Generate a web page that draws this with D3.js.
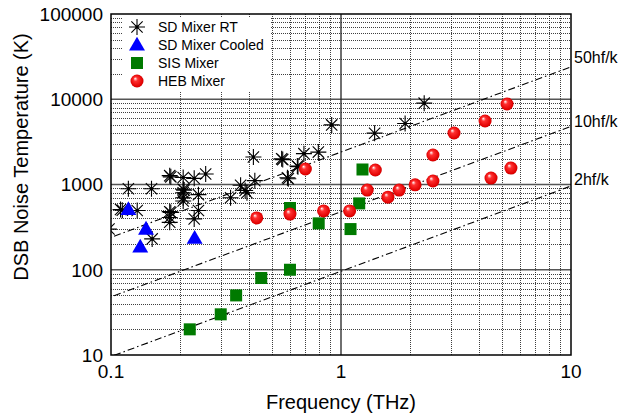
<!DOCTYPE html>
<html>
<head>
<meta charset="utf-8">
<script src="https://cdn.jsdelivr.net/npm/d3@7"></script>
<style>
  body { margin: 0; background: #fff; }
  svg text { font-family: Arial, 'Liberation Sans', sans-serif; fill: #000; }
</style>
</head>
<body>
<svg width="618" height="420"></svg>
<script>
// SD Mixer RT (room temperature Schottky)
const sdRtFreq = [0.098, 0.110, 0.112, 0.119, 0.130, 0.150, 0.151, 0.180, 0.182, 0.180, 0.182, 0.180, 0.180,
  0.206, 0.206, 0.208, 0.206, 0.206, 0.206, 0.230, 0.230, 0.240, 0.240, 0.258, 0.331, 0.366, 0.383, 0.39,
  0.416, 0.422, 0.552, 0.558, 0.585, 0.59, 0.646, 0.65, 0.69, 0.797, 0.911, 1.40, 1.90, 2.30]
const sdRtTemp = [300, 510, 500, 890, 495, 890, 230, 1270, 1230, 480, 470, 410, 360,
  1210, 880, 860, 800, 700, 640, 1180, 395, 760, 495, 1330, 700, 980, 850, 800,
  2100, 1110, 2000, 1960, 1200, 1170, 1650, 1620, 2300, 2400, 5000, 4000, 5200, 9000]

// SD Mixer Cooled
const sdCoolFreq = [0.119, 0.134, 0.142, 0.231]
const sdCoolTemp = [510, 185, 300, 235]

// SIS Mixer
const sisFreq = [0.22, 0.30, 0.35, 0.45, 0.60, 0.60, 0.80, 1.10, 1.20, 1.24]
const sisTemp = [20, 30, 50, 80, 100, 530, 350, 300, 600, 1500]

// HEB Mixer
const hebFreq = [0.43, 0.60, 0.70, 0.84, 1.09, 1.30, 1.41, 1.60, 1.79, 2.10, 2.51, 2.51, 3.10, 4.23, 4.49, 5.27, 5.48]
const hebTemp = [405, 450, 1520, 490, 490, 860, 1480, 710, 860, 990, 1100, 2220, 4020, 5560, 1190, 8790, 1560]

// quantum limit style lines T = n*h*f/k  (h/k = 48 K/THz)
const limitN = [50, 10, 2]
const limitLabels = ['50hf/k', '10hf/k', '2hf/k']
const hOverK = 48

const xTicks = [0.1, 1, 10]
const yTicks = [10, 100, 1000, 10000, 100000]

let svg = d3.select('svg')
const mLeft = 111, mRight = 571, mTop = 14, mBottom = 355

const x = d3.scaleLog().domain([0.1, 10]).range([mLeft, mRight])
const y = d3.scaleLog().domain([10, 100000]).range([mBottom, mTop])

let defs = svg.append('defs')
defs.append('clipPath').attr('id', 'plot')
  .append('rect')
  .attr('x', mLeft).attr('y', mTop)
  .attr('width', mRight - mLeft).attr('height', mBottom - mTop)

const ball = defs.append('radialGradient')
  .attr('id', 'ball').attr('cx', '50%').attr('cy', '50%').attr('r', '55%')
  .attr('fx', '35%').attr('fy', '30%')
ball.append('stop').attr('offset', '0%').attr('stop-color', '#ffffff')
ball.append('stop').attr('offset', '30%').attr('stop-color', '#ff3030')
ball.append('stop').attr('offset', '85%').attr('stop-color', '#e00000')
ball.append('stop').attr('offset', '100%').attr('stop-color', '#b00000')

// grid
const minorX = [], minorY = []
for (let d = 0.1; d < 9; d *= 10) for (let k = 2; k <= 9; k++) minorX.push(d * k)
for (let d = 10; d < 90000; d *= 10) for (let k = 2; k <= 9; k++) minorY.push(d * k)

let grid = svg.append('g')
grid.selectAll('.mx').data(minorX).enter().append('line')
  .attr('x1', d => Math.round(x(d)) + 0.5).attr('x2', d => Math.round(x(d)) + 0.5)
  .attr('y1', mTop).attr('y2', mBottom)
  .attr('stroke', '#000').attr('stroke-width', 1).attr('stroke-dasharray', '1,1')
  .attr('opacity', 0.75)
grid.selectAll('.my').data(minorY).enter().append('line')
  .attr('y1', d => Math.round(y(d)) + 0.5).attr('y2', d => Math.round(y(d)) + 0.5)
  .attr('x1', mLeft).attr('x2', mRight)
  .attr('stroke', '#000').attr('stroke-width', 1).attr('stroke-dasharray', '1,1')
  .attr('opacity', 0.75)
grid.selectAll('.My').data(yTicks.slice(1, -1)).enter().append('line')
  .attr('y1', d => y(d)).attr('y2', d => y(d))
  .attr('x1', mLeft).attr('x2', mRight)
  .attr('stroke', '#555').attr('stroke-width', 1.6)
grid.append('line')
  .attr('x1', x(1)).attr('x2', x(1)).attr('y1', mTop).attr('y2', mBottom)
  .attr('stroke', '#222').attr('stroke-width', 1.3)

// limit lines
let plot = svg.append('g').attr('clip-path', 'url(#plot)')
const line = d3.line().x(d => x(d[0])).y(d => y(d[1]))
limitN.forEach(n => {
  plot.append('path')
    .attr('d', line([[0.09, n * hOverK * 0.09], [11, n * hOverK * 11]]))
    .attr('fill', 'none').attr('stroke', '#000').attr('stroke-width', 1.1)
    .attr('stroke-dasharray', '7,3,1.5,3')
})

// markers
const asterisk = r => {
  const a = r * Math.SQRT1_2
  return `M${-r},0L${r},0M0,${-r}L0,${r}M${-a},${-a}L${a},${a}M${-a},${a}L${a},${-a}`
}
const drawStar = (g, px, py) => {
  g.append('path').attr('transform', `translate(${px},${py})`)
    .attr('d', asterisk(8)).attr('stroke', '#000').attr('stroke-width', 1.1).attr('fill', 'none')
  g.append('circle').attr('cx', px).attr('cy', py).attr('r', 1.6).attr('fill', '#000')
}
const triPath = d3.symbol().type(d3.symbolTriangle).size(110)()
const drawTri = (g, px, py) => g.append('path').attr('transform', `translate(${px},${py + 1})`)
  .attr('d', triPath).attr('fill', '#0000ff')
const drawSquare = (g, px, py) => g.append('rect')
  .attr('x', px - 6).attr('y', py - 6).attr('width', 12).attr('height', 12).attr('fill', '#007a00')
const drawBall = (g, px, py) => g.append('circle')
  .attr('cx', px).attr('cy', py).attr('r', 6.5).attr('fill', 'url(#ball)')

sdRtFreq.forEach((f, i) => drawStar(plot, x(f), y(sdRtTemp[i])))
sdCoolFreq.forEach((f, i) => drawTri(plot, x(f), y(sdCoolTemp[i])))
sisFreq.forEach((f, i) => drawSquare(plot, x(f), y(sisTemp[i])))
hebFreq.forEach((f, i) => drawBall(plot, x(f), y(hebTemp[i])))

// frame
svg.append('rect').attr('x', mLeft).attr('y', mTop)
  .attr('width', mRight - mLeft).attr('height', mBottom - mTop)
  .attr('fill', 'none').attr('stroke', '#000').attr('stroke-width', 1.5)

// tick labels
svg.selectAll('.xt').data(xTicks).enter().append('text')
  .attr('x', d => x(d)).attr('y', 378)
  .attr('text-anchor', 'middle').attr('font-size', 19)
  .text(d => d3.format('~g')(d))
svg.selectAll('.yt').data(yTicks).enter().append('text')
  .attr('x', 103).attr('y', d => y(d)).attr('dy', '0.36em')
  .attr('text-anchor', 'end').attr('font-size', 19)
  .text(d => d)

// limit labels
limitLabels.forEach((t, i) => {
  svg.append('text')
    .attr('x', 574).attr('y', [57, 121, 179][i]).attr('dy', '0.36em')
    .attr('font-size', 16).text(t)
})

// axis titles
svg.append('text').attr('x', x(1)).attr('y', 409)
  .attr('text-anchor', 'middle').attr('font-size', 20).text('Frequency (THz)')
svg.append('text').attr('transform', 'translate(28,157) rotate(-90)')
  .attr('text-anchor', 'middle').attr('font-size', 20).text('DSB Noise Temperature (K)')

// legend
const legendNames = ['SD Mixer RT', 'SD Mixer Cooled', 'SIS Mixer', 'HEB Mixer']
const legendDraw = [drawStar, drawTri, drawSquare, drawBall]
let legend = svg.append('g').attr('id', 'legend')
legend.append('rect').attr('x', 122).attr('y', 17).attr('width', 148).attr('height', 74).attr('fill', '#fff')
legendNames.forEach((name, i) => {
  const ly = 27 + i * 18
  legendDraw[i](legend, 137, ly)
  legend.append('text').attr('x', 158).attr('y', ly).attr('dy', '0.36em')
    .attr('font-size', 14).text(name)
})
</script>
</body>
</html>
